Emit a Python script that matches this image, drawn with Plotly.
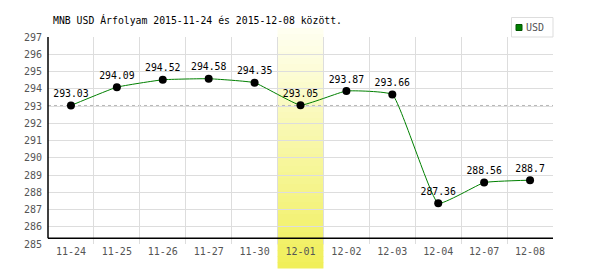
import plotly.graph_objects as go

dates = ["11-24", "11-25", "11-26", "11-27", "11-30", "12-01",
         "12-02", "12-03", "12-04", "12-07", "12-08"]
rates = [293.03, 294.09, 294.52, 294.58, 294.35, 293.05,
         293.87, 293.66, 287.36, 288.56, 288.7]
labels = ["293.03", "294.09", "294.52", "294.58", "294.35", "293.05",
          "293.87", "293.66", "287.36", "288.56", "288.7"]
y_ticks = list(range(285, 298))
highlight = "12-01"
series_name = "USD"
title = "MNB USD Árfolyam 2015-11-24 és 2015-12-08 között."

FONT = "DejaVu Sans Mono"
W, H = 600, 270
ml, mr, mt, mb = 48, 47, 37, 26
ph = H - mt - mb

fig = go.Figure()
fig.add_trace(go.Scatter(
    x=dates, y=rates, mode="lines+markers+text",
    text=labels, textposition="top center",
    textfont=dict(family=FONT, size=9.8, color="#000"),
    line=dict(color="#008000", width=1, shape="spline", smoothing=0.35),
    marker=dict(color="#000", size=8),
    showlegend=False, cliponaxis=False,
))

shapes = []
# gradient highlight band
hi = dates.index(highlight)
top_px, bot_px = 28, 268
n = 40
c0 = (255, 255, 242)
c1 = (240, 239, 88)
for i in range(n):
    t = (i + 0.5) / n
    col = tuple(round(c0[k] + (c1[k] - c0[k]) * t) for k in range(3))
    ya = top_px + (bot_px - top_px) * i / n
    yb = top_px + (bot_px - top_px) * (i + 1) / n + 0.6
    shapes.append(dict(type="rect", xref="x", yref="paper",
                       x0=hi - 0.5, x1=hi + 0.5,
                       y0=1 - (yb - mt) / ph, y1=1 - (ya - mt) / ph,
                       fillcolor="rgb(%d,%d,%d)" % col, line=dict(width=0),
                       layer="between"))
# reference dashed line at first value
shapes.append(dict(type="line", xref="paper", yref="y", x0=0, x1=1,
                   y0=rates[0], y1=rates[0],
                   line=dict(color="#b8b8b8", width=1, dash="3px,3px"),
                   layer="between"))
# axis lines
ax_y = 285.33
shapes.append(dict(type="line", xref="paper", yref="y", x0=0, x1=1,
                   y0=ax_y, y1=ax_y, line=dict(color="#000", width=1.5)))
shapes.append(dict(type="line", xref="paper", yref="y", x0=0, x1=0,
                   y0=ax_y, y1=297, line=dict(color="#000", width=1.5)))
# legend box
pw = W - ml - mr
def px_x(x):
    return (x - ml) / pw
def px_y(y):
    return 1 - (y - mt) / ph
shapes.append(dict(type="rect", xref="paper", yref="paper",
                   x0=px_x(511.5), x1=px_x(553), y0=px_y(37), y1=px_y(17.5),
                   line=dict(color="#dddddd", width=1), fillcolor="#fff"))
shapes.append(dict(type="rect", xref="paper", yref="paper",
                   x0=px_x(516), x1=px_x(522), y0=px_y(30.5), y1=px_y(24.5),
                   line=dict(color="#005500", width=1), fillcolor="#008000"))

annotations = [dict(text=series_name, xref="paper", yref="paper",
                    x=px_x(524), y=px_y(27.5), xanchor="left", yanchor="middle",
                    showarrow=False, font=dict(family=FONT, size=10, color="#555"))]

fig.update_layout(
    width=W, height=H,
    margin=dict(l=ml, r=mr, t=mt, b=mb),
    paper_bgcolor="#fff", plot_bgcolor="#fff",
    title=dict(text=title, x=53 / W, xanchor="left", xref="container",
               y=1 - 21 / H, yanchor="middle", yref="container",
               font=dict(family=FONT, size=9.8, color="#000")),
    shapes=shapes, annotations=annotations,
    xaxis=dict(type="category", tickson="boundaries", showgrid=True,
               gridcolor="#dddddd", gridwidth=1, showline=False, zeroline=False,
               ticks="", tickfont=dict(family=FONT, size=10, color="#555"),
               range=[-0.5, len(dates) - 0.5]),
    yaxis=dict(range=[285, 297], tickvals=y_ticks, showgrid=True,
               gridcolor="#dddddd", gridwidth=1, showline=False, zeroline=False,
               ticks="", ticklabelstandoff=5,
               tickfont=dict(family=FONT, size=10, color="#555")),
)
fig.write_html("out.html")
